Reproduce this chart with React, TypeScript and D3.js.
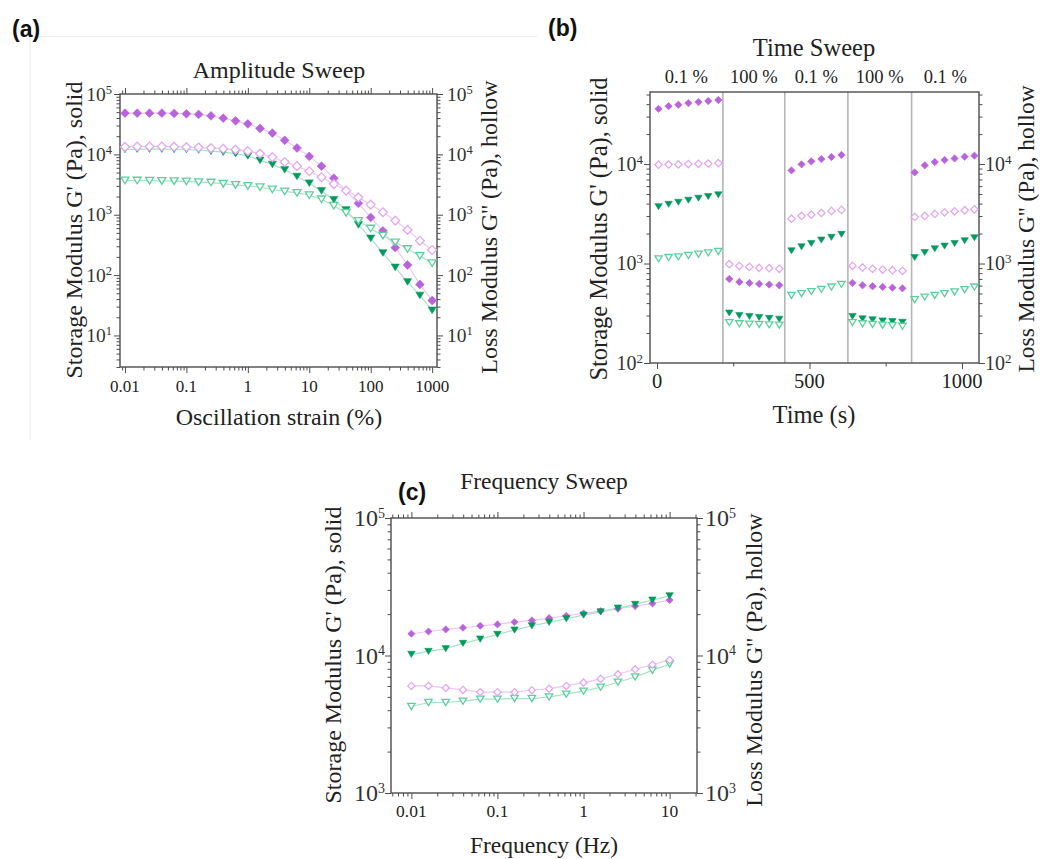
import React, { useEffect, useRef } from "react";
import * as d3 from "d3";

const W = 1040;
const H = 859;

// (a) Amplitude sweep
const strainA = [0.01, 0.0158, 0.0251, 0.0398, 0.0631, 0.1, 0.158, 0.251, 0.398, 0.631, 1, 1.58, 2.51, 3.98, 6.31, 10, 15.8, 25.1, 39.8, 63.1, 100, 158, 251, 398, 631, 1000];
const gp1A = [48200, 48200, 48200, 48200, 47700, 47000, 45900, 43500, 39800, 35900, 32000, 26900, 22500, 17100, 12740, 9260, 6380, 4030, null, 1543, 902, 541, 285, 147, 70, 37.9];
const gpp1A = [13300, 13500, 13500, 13500, 13400, 13200, 13000, 12700, 12400, 12000, 11300, 10300, 9000, 7460, 6380, 5250, 4170, 3220, 2510, 1940, 1470, 1100, 800, 560, 370, 260];
const gp2A = [12100, 12200, 12200, 12200, 12100, 12000, 11800, 11300, 10900, 10300, 9400, 7940, 6810, 5560, 4300, 3330, 2480, 1770, 1200, 680, 405, 232, 134, 77, 46, 26];
const gpp2A = [3690, 3680, 3660, 3640, 3600, 3560, 3460, 3410, 3250, 3120, 3000, 2850, 2620, 2430, 2300, 2100, 1800, 1410, 1075, 790, 590, 450, 348, 270, 208, 157];

// (b) Time sweep, strain alternating between 0.1 % and 100 %
const timeB = [5, 38, 70, 103, 136, 168, 201, 237, 270, 303, 335, 368, 401, 441, 474, 506, 539, 572, 605, 641, 674, 707, 740, 772, 805, 845, 878, 911, 943, 976, 1009, 1041];
const gp1B = [35900, 38200, 39400, 41000, 42000, 43000, 44000, 700, 653, 638, 624, 614, 604, 8630, 9930, 10640, 11220, 11770, 12330, 638, 604, 590, 581, 572, 563, 8240, 9700, 10470, 10970, 11400, 11860, 12140];
const gpp1B = [9850, 9900, 9900, 10000, 10050, 10100, 10200, 985, 947, 925, 904, 897, 884, 2825, 3010, 3100, 3225, 3380, 3460, 947, 914, 884, 870, 857, 844, 2940, 3010, 3150, 3270, 3350, 3430, 3510];
const gp2B = [3730, 3940, 4130, 4330, 4540, 4710, 4900, 318, 301, 294, 287, 281, 276, 1343, 1473, 1592, 1721, 1832, 1965, 294, 278, 272, 265, 261, 257, 1150, 1291, 1406, 1496, 1592, 1694, 1816];
const gpp2B = [1115, 1150, 1167, 1205, 1242, 1282, 1322, 255, 248, 246, 244, 242, 240, 478, 498, 522, 550, 581, 618, 255, 248, 244, 240, 238, 234, 433, 460, 478, 498, 518, 546, 581];
const stepBoundsB = [216, 419, 626, 835];
const stepLabelsB = ["0.1 %", "100 %", "0.1 %", "100 %", "0.1 %"];

// (c) Frequency sweep
const freqC = [0.01, 0.0158, 0.0251, 0.0398, 0.0631, 0.1, 0.158, 0.251, 0.398, 0.631, 1, 1.58, 2.51, 3.98, 6.31, 10];
const gp1C = [14400, 14950, 15480, 15920, 16450, 16830, 17500, 18000, 18710, 19450, 20230, 21030, 21870, 22870, 23900, 25290];
const gpp1C = [6010, 6010, 5810, 5620, 5410, 5410, 5410, 5590, 5740, 6010, 6350, 6760, 7300, 7940, 8580, 9270];
const gp2C = [10190, 10710, 11210, 12250, 13170, 14240, 15310, 16450, 17400, 18500, 19660, 20790, 22120, 23510, 25290, 27170];
const gpp2C = [4255, 4550, 4550, 4655, 4810, 4810, 4865, 4865, 5000, 5230, 5500, 5880, 6390, 6980, 7800, 8670];

const SERIF = "'Liberation Serif', 'Times New Roman', serif";
const SANS = "'Liberation Sans', Arial, sans-serif";
const FRAME = "#4d4d4d";

const PURPLE = "#b862dc";
const PURPLE_LIGHT = "#e2a8f1";
const PURPLE_LINE = "#ecc6f5";
const GREEN = "#06995e";
const GREEN_LIGHT = "#5dcf9e";
const GREEN_LINE = "#a6e3c6";

const diamond = (r) => `M0,${-r}L${r},0L0,${r}L${-r},0Z`;
const triDown = (w, h) => `M${-w},${-h / 2}L${w},${-h / 2}L0,${h / 2}Z`;

function drawPanel(root, p) {
  const g = root.append("g");
  const { x, y } = p;
  const [left, right] = x.range();
  const [bottom, top] = y.range();

  const ticks = (axis, vals, size, tr) => {
    g.append("g")
      .attr("transform", tr)
      .call(axis.tickValues(vals).tickSize(size).tickSizeOuter(0).tickFormat(() => ""))
      .call((s) => {
        s.select(".domain").remove();
        s.selectAll("text").remove();
        s.selectAll("line").attr("stroke", FRAME).attr("stroke-width", 1);
      });
  };

  const yAll = y.ticks();
  const yMajor = p.yMajor;
  const yMinor = yAll.filter((v) => !yMajor.includes(v));

  ticks(d3.axisBottom(x), p.xMajor, 6, `translate(0,${bottom})`);
  ticks(d3.axisBottom(x), p.xMinor, 3.5, `translate(0,${bottom})`);
  if (p.topTicks) {
    ticks(d3.axisTop(x), p.xMajor, 6, `translate(0,${top})`);
    ticks(d3.axisTop(x), p.xMinor, 3.5, `translate(0,${top})`);
  }
  ticks(d3.axisLeft(y), yMajor, 6, `translate(${left},0)`);
  ticks(d3.axisLeft(y), yMinor, 3.5, `translate(${left},0)`);
  ticks(d3.axisRight(y), yMajor, 6, `translate(${right},0)`);
  ticks(d3.axisRight(y), yMinor, 3.5, `translate(${right},0)`);

  // step dividers (time sweep)
  (p.dividers || []).forEach((t) => {
    g.append("line")
      .attr("x1", x(t)).attr("x2", x(t))
      .attr("y1", top).attr("y2", bottom)
      .attr("stroke", "#b5b5b5").attr("stroke-width", 1.6);
  });

  g.append("rect")
    .attr("x", left).attr("y", top)
    .attr("width", right - left).attr("height", bottom - top)
    .attr("fill", "none").attr("stroke", FRAME).attr("stroke-width", 1.4);

  // x tick labels
  p.xMajor.forEach((v) => {
    g.append("text")
      .attr("x", x(v)).attr("y", p.xTickBase)
      .attr("text-anchor", "middle")
      .attr("font-family", SERIF).attr("font-size", p.xTickFont)
      .attr("fill", "#222")
      .text(p.xFmt(v));
  });

  // y tick labels, both sides
  yMajor.forEach((v) => {
    const e = Math.round(Math.log10(v));
    [
      [p.leftTickEnd, "end"],
      [p.rightTickStart, "start"],
    ].forEach(([tx, anchor]) => {
      const t = g.append("text")
        .attr("x", tx).attr("y", y(v) + p.yTickFont * 0.34)
        .attr("text-anchor", anchor)
        .attr("font-family", SERIF).attr("font-size", p.yTickFont)
        .attr("fill", "#333");
      t.append("tspan").text("10");
      t.append("tspan").attr("dy", -p.yTickFont * 0.36).attr("font-size", p.supFont).text(String(e));
    });
  });

  // lines
  if (p.lines) {
    p.series.forEach((s) => {
      const pts = s.xs.map((xv, i) => [xv, s.values[i]]).filter((d) => d[1] != null);
      g.append("path")
        .attr("d", d3.line().x((d) => x(d[0])).y((d) => y(d[1]))(pts))
        .attr("fill", "none").attr("stroke", s.line).attr("stroke-width", 1.2);
    });
  }

  // markers
  p.series.forEach((s) => {
    const shape = s.kind === "diamond" ? diamond(p.dR) : triDown(p.tW, p.tH);
    s.xs.forEach((xv, i) => {
      const v = s.values[i];
      if (v == null) return;
      g.append("path")
        .attr("d", shape)
        .attr("transform", `translate(${x(xv)},${y(v)})`)
        .attr("fill", s.solid ? s.color : "#fff")
        .attr("stroke", s.color)
        .attr("stroke-width", s.solid ? 0.6 : 1.3);
    });
  });

  // titles and axis labels
  g.append("text")
    .attr("x", p.title[1]).attr("y", p.title[2])
    .attr("text-anchor", "middle")
    .attr("font-family", SERIF).attr("font-size", p.title[3]).attr("fill", "#222")
    .text(p.title[0]);
  g.append("text")
    .attr("x", p.xLabel[1]).attr("y", p.xLabel[2])
    .attr("text-anchor", "middle")
    .attr("font-family", SERIF).attr("font-size", p.xLabel[3]).attr("fill", "#222")
    .text(p.xLabel[0]);
  [p.leftLabel, p.rightLabel].forEach(([txt, bx, cy, fs]) => {
    g.append("text")
      .attr("x", bx).attr("y", cy)
      .attr("transform", `rotate(-90,${bx},${cy})`)
      .attr("text-anchor", "middle")
      .attr("font-family", SERIF).attr("font-size", fs).attr("fill", "#222")
      .text(txt);
  });
}

const seriesOf = (xs, gp1, gpp1, gp2, gpp2) => [
  { xs, values: gp1, kind: "diamond", solid: true, color: PURPLE, line: PURPLE_LINE },
  { xs, values: gp2, kind: "tri", solid: true, color: GREEN, line: GREEN_LINE },
  { xs, values: gpp2, kind: "tri", solid: false, color: GREEN_LIGHT, line: GREEN_LINE },
  { xs, values: gpp1, kind: "diamond", solid: false, color: PURPLE_LIGHT, line: PURPLE_LINE },
];

const G1 = "Storage Modulus G' (Pa), solid";
const G2 = "Loss Modulus G'' (Pa), hollow";

export default function App() {
  const ref = useRef(null);

  useEffect(() => {
    const svg = d3.select(ref.current);
    svg.selectAll("*").remove();

    svg.append("rect").attr("width", W).attr("height", H).attr("fill", "#fff");

    // faint border around panel (a)
    svg.append("path")
      .attr("d", "M30,440V36.5H537")
      .attr("fill", "none").attr("stroke", "#ececec").attr("stroke-width", 1);

    // (a)
    drawPanel(svg, {
      x: d3.scaleLog().domain([0.0083, 1200]).range([120, 437]),
      y: d3.scaleLog().domain([3, 1e5]).range([367, 94]),
      xMajor: [0.01, 0.1, 1, 10, 100, 1000],
      xMinor: d3.scaleLog().domain([0.0083, 1200]).ticks().filter((v) => ![0.01, 0.1, 1, 10, 100, 1000].includes(v)),
      xFmt: (v) => String(v),
      xTickFont: 17, xTickBase: 392,
      yMajor: [10, 100, 1e3, 1e4, 1e5],
      yTickFont: 19.5, supFont: 12.5, leftTickEnd: 112, rightTickStart: 447,
      topTicks: true,
      lines: true, dR: 4.4, tW: 4, tH: 6.6,
      series: seriesOf(strainA, gp1A, gpp1A, gp2A, gpp2A),
      title: ["Amplitude Sweep", 279, 78, 24],
      xLabel: ["Oscillation strain (%)", 279, 425, 24],
      leftLabel: [G1, 82, 230, 24],
      rightLabel: [G2, 497, 227, 24],
    });

    // (b)
    const xB = d3.scaleLinear().domain([-23, 1056]).range([650, 979]);
    drawPanel(svg, {
      x: xB,
      y: d3.scaleLog().domain([100, 53000]).range([363, 92]),
      xMajor: [0, 500, 1000],
      xMinor: [250, 750],
      xFmt: (v) => String(v),
      xTickFont: 20.5, xTickBase: 388,
      yMajor: [100, 1e3, 1e4],
      yTickFont: 20, supFont: 13, leftTickEnd: 643, rightTickStart: 985,
      topTicks: false,
      dividers: stepBoundsB,
      lines: false, dR: 3.7, tW: 3.7, tH: 6,
      series: seriesOf(timeB, gp1B, gpp1B, gp2B, gpp2B),
      title: ["Time Sweep", 814, 56, 24.5],
      xLabel: ["Time (s)", 814, 423, 24.5],
      leftLabel: [G1, 607, 229, 24.5],
      rightLabel: [G2, 1034, 229, 23.5],
    });
    const edges = [xB.domain()[0], ...stepBoundsB, xB.domain()[1]];
    stepLabelsB.forEach((lab, i) => {
      svg.append("text")
        .attr("x", xB((edges[i] + edges[i + 1]) / 2)).attr("y", 83)
        .attr("text-anchor", "middle")
        .attr("font-family", SERIF).attr("font-size", 18.5).attr("fill", "#222")
        .text(lab);
    });

    // (c)
    drawPanel(svg, {
      x: d3.scaleLog().domain([0.0058, 20.8]).range([391, 697]),
      y: d3.scaleLog().domain([1e3, 1e5]).range([793, 518]),
      xMajor: [0.01, 0.1, 1, 10],
      xMinor: d3.scaleLog().domain([0.0058, 20.8]).ticks().filter((v) => ![0.01, 0.1, 1, 10].includes(v)),
      xFmt: (v) => String(v),
      xTickFont: 17.5, xTickBase: 817,
      yMajor: [1e3, 1e4, 1e5],
      yTickFont: 24, supFont: 14, leftTickEnd: 385, rightTickStart: 705,
      topTicks: true,
      lines: true, dR: 3.6, tW: 3.7, tH: 6.2,
      series: seriesOf(freqC, gp1C, gpp1C, gp2C, gpp2C),
      title: ["Frequency Sweep", 544, 489, 23.5],
      xLabel: ["Frequency (Hz)", 544, 853, 23.5],
      leftLabel: [G1, 341, 655, 24],
      rightLabel: [G2, 762, 660, 24],
    });

    // panel letters
    [["(a)", 12, 37], ["(b)", 548, 36], ["(c)", 398, 500]].forEach(([t, px, py]) => {
      svg.append("text")
        .attr("x", px).attr("y", py)
        .attr("font-family", SANS).attr("font-weight", "bold").attr("font-size", 23)
        .attr("fill", "#111")
        .text(t);
    });
  }, []);

  return (
    <svg
      ref={ref}
      width={W}
      height={H}
      style={{ position: "absolute", left: 0, top: 0, display: "block" }}
    />
  );
}
